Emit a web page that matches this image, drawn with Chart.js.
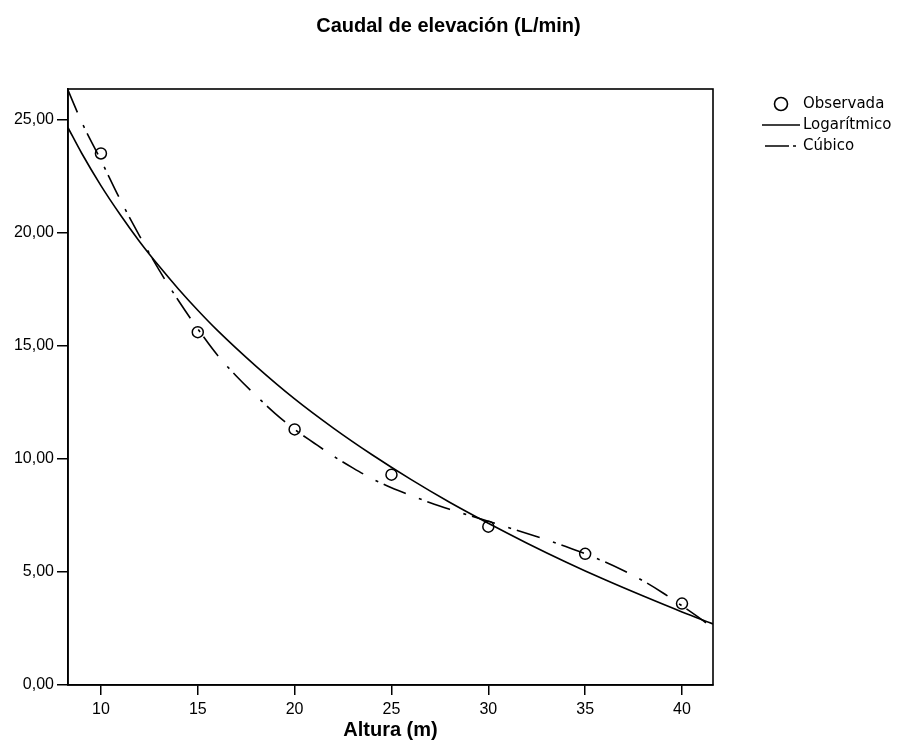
<!DOCTYPE html>
<html>
<head>
<meta charset="utf-8">
<script src="https://cdn.jsdelivr.net/npm/chart.js@4"></script>
<style>
  body { margin: 0; background: #fff; }
</style>
</head>
<body>
<canvas id="curveChart" width="897" height="754"></canvas>
<script>
// observed points
const alturaObs = [10, 15, 20, 25, 30, 35, 40];
const caudalObs = [23.5, 15.6, 11.3, 9.3, 7.0, 5.8, 3.6];

// logarithmic fit
const alturaLog = [8.3, 9, 10, 11, 12, 13, 14, 15, 16, 18, 20, 22, 24, 26, 28, 30, 32, 34, 36, 38, 40, 41.6];
const caudalLog = [24.64, 23.52, 22.08, 20.79, 19.6, 18.52, 17.51, 16.57, 15.69, 14.1, 12.65, 11.36, 10.18, 9.09, 8.08, 7.15, 6.27, 5.44, 4.66, 3.93, 3.23, 2.7];

// cubic fit
const alturaCub = [8.3, 9, 10, 11, 12, 13, 14, 15, 16, 17, 18, 19, 20, 21, 22, 23, 24, 25, 26, 27, 28, 29, 30, 31, 32, 33, 34, 35, 36, 37, 38, 39, 40, 41, 41.6];
const caudalCub = [26.3, 24.9, 23.2, 21.45, 19.85, 18.35, 17.0, 15.75, 14.6, 13.65, 12.8, 12.0, 11.3, 10.7, 10.12, 9.6, 9.12, 8.72, 8.38, 8.06, 7.77, 7.5, 7.24, 6.97, 6.7, 6.42, 6.12, 5.8, 5.45, 5.05, 4.6, 4.08, 3.5, 2.9, 2.5];

const xTicks = [10, 15, 20, 25, 30, 35, 40];
const yTicks = [0, 5, 10, 15, 20, 25];

const legendLabels = ['Observada', 'Logarítmico', 'Cúbico'];

function toPoints(xs, ys) {
    return xs.map((x, i) => ({ x: x, y: ys[i] }));
}

const cubicDash = [24, 14, 3, 6];

// plot frame + legend on the right
const framePlugin = {
    id: 'frame',
    afterDraw(chart) {
        const ctx = chart.ctx;
        const a = chart.chartArea;
        ctx.save();
        ctx.strokeStyle = '#000';
        ctx.lineWidth = 1.6;
        ctx.strokeRect(a.left, a.top, a.right - a.left, a.bottom - a.top);

        ctx.font = '15px "DejaVu Sans"';
        ctx.fillStyle = '#000';
        ctx.textBaseline = 'middle';
        ctx.textAlign = 'left';

        // Observada
        ctx.lineWidth = 1.6;
        ctx.beginPath();
        ctx.arc(781, 104, 6.5, 0, Math.PI * 2);
        ctx.stroke();
        ctx.fillText(legendLabels[0], 803, 104);

        // Logarítmico
        ctx.beginPath();
        ctx.moveTo(762, 125);
        ctx.lineTo(800, 125);
        ctx.stroke();
        ctx.fillText(legendLabels[1], 803, 125);

        // Cúbico
        ctx.beginPath();
        ctx.moveTo(765, 146);
        ctx.lineTo(789, 146);
        ctx.moveTo(793, 146);
        ctx.lineTo(796, 146);
        ctx.stroke();
        ctx.fillText(legendLabels[2], 803, 146);
        ctx.restore();
    }
};

const ctx = document.getElementById('curveChart').getContext('2d');
const curveChart = new Chart(ctx, {
    type: 'scatter',
    data: {
        datasets: [{
            label: legendLabels[0],
            data: toPoints(alturaObs, caudalObs),
            pointRadius: 5.5,
            pointBorderWidth: 1.5,
            pointBorderColor: '#000',
            pointBackgroundColor: 'rgba(255,255,255,0)',
            showLine: false,
            order: 0
        }, {
            label: legendLabels[1],
            data: toPoints(alturaLog, caudalLog),
            showLine: true,
            borderColor: '#000',
            borderWidth: 1.6,
            pointRadius: 0,
            cubicInterpolationMode: 'monotone',
            order: 1
        }, {
            label: legendLabels[2],
            data: toPoints(alturaCub, caudalCub),
            showLine: true,
            borderColor: '#000',
            borderWidth: 1.6,
            borderDash: cubicDash,
            pointRadius: 0,
            cubicInterpolationMode: 'monotone',
            order: 2
        }]
    },
    options: {
        responsive: false,
        animation: false,
        devicePixelRatio: 1,
        layout: {
            padding: 0
        },
        scales: {
            x: {
                type: 'linear',
                min: 8.3,
                max: 41.6,
                afterFit: function (s) { s.height = 69; },
                afterBuildTicks: function (s) { s.ticks = xTicks.map(v => ({ value: v })); },
                grid: {
                    drawOnChartArea: false,
                    drawTicks: true,
                    tickLength: 10,
                    color: '#000',
                    lineWidth: 1.5
                },
                border: { display: true, color: '#000', width: 1.6 },
                ticks: {
                    color: '#000',
                    padding: 5,
                    maxRotation: 0,
                    font: { family: 'Liberation Sans', size: 16 }
                },
                title: {
                    display: true,
                    text: 'Altura (m)',
                    color: '#000',
                    font: { family: 'Liberation Sans', size: 20, weight: 'bold' },
                    padding: { top: 0, bottom: 12 }
                }
            },
            y: {
                type: 'linear',
                min: 0,
                max: 26.35,
                afterFit: function (s) { s.width = 68; },
                afterBuildTicks: function (s) { s.ticks = yTicks.map(v => ({ value: v })); },
                grid: {
                    drawOnChartArea: false,
                    drawTicks: true,
                    tickLength: 11,
                    color: '#000',
                    lineWidth: 1.5
                },
                border: { display: true, color: '#000', width: 1.6 },
                ticks: {
                    color: '#000',
                    padding: 3,
                    font: { family: 'Liberation Sans', size: 16 },
                    callback: function (v) { return v.toFixed(2).replace('.', ','); }
                }
            },
            // empty right-hand strip that holds the legend
            legendSpace: {
                type: 'linear',
                position: 'right',
                display: true,
                afterFit: function (s) { s.width = 184; },
                grid: { display: false, drawTicks: false },
                border: { display: false },
                ticks: { display: false }
            }
        },
        plugins: {
            legend: { display: false },
            tooltip: { enabled: false },
            title: {
                display: true,
                text: 'Caudal de elevación (L/min)',
                color: '#000',
                font: { family: 'Liberation Sans', size: 20, weight: 'bold' },
                padding: { top: 14, bottom: 51 }
            }
        }
    },
    plugins: [framePlugin]
});
</script>
</body>
</html>
